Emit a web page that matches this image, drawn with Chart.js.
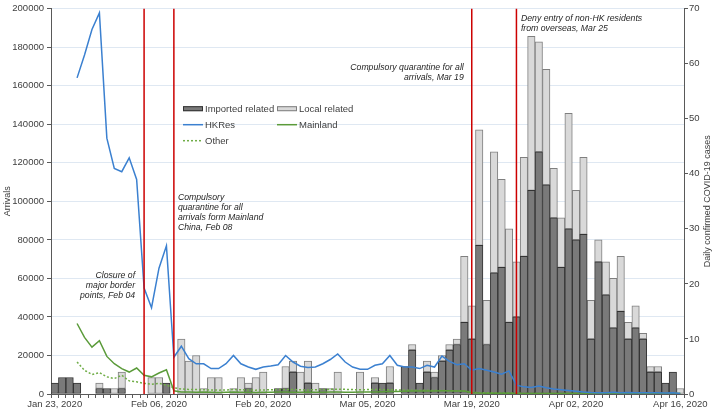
<!DOCTYPE html>
<html>
<head>
<meta charset="utf-8">
<script src="https://cdn.jsdelivr.net/npm/chart.js@4"></script>
<style>
  body { margin: 0; background: #fff; }
  canvas { display: block; }
</style>
</head>
<body>
<canvas id="myChart" width="716" height="411"></canvas>
<script>
// one category per day, Jan 23 - Apr 16 2020
var days = [];
for (var d = new Date(Date.UTC(2020, 0, 23)); d <= new Date(Date.UTC(2020, 3, 16)); d.setUTCDate(d.getUTCDate() + 1)) {
    days.push(d.toISOString().slice(0, 10));
}
var tickLabels = ['Jan 23, 2020', 'Feb 06, 2020', 'Feb 20, 2020', 'Mar 05, 2020', 'Mar 19, 2020', 'Apr 02, 2020', 'Apr 16, 2020'];
var tickEvery = 14;

// daily confirmed cases (right axis)
var imported = [2, 3, 3, 2, 0, 0, 1, 1, 0, 1,
    0, 0, 0, 0, 0, 2, 0, 0, 0, 0,
    0, 0, 0, 0, 0, 0, 1, 0, 0, 0,
    1, 1, 4, 0, 2, 0, 1, 0, 0, 0,
    0, 0, 0, 2, 2, 2, 0, 5, 8, 2,
    4, 3, 6, 8, 9, 13, 10, 27, 9, 22,
    23, 13, 14, 25, 37, 44, 38, 32, 23, 30,
    28, 29, 10, 24, 18, 12, 15, 10, 12, 10,
    4, 4, 2, 4, 0];
var local = [0, 0, 0, 0, 0, 0, 1, 0, 1, 3,
    0, 0, 0, 3, 3, 0, 0, 10, 6, 7,
    1, 3, 3, 0, 1, 3, 1, 3, 4, 0,
    0, 4, 2, 4, 4, 2, 0, 1, 4, 0,
    0, 4, 0, 1, 0, 3, 0, 0, 1, 0,
    2, 1, 1, 1, 1, 12, 6, 21, 8, 22,
    16, 17, 10, 18, 28, 20, 21, 9, 9, 21,
    9, 14, 7, 4, 6, 9, 10, 3, 4, 1,
    1, 1, 0, 0, 1];

// arrivals (left axis)
var hkRes = [null, null, null, 164100, 176000, 189200, 197800, 132800, 117100, 115400,
    122600, 111400, 55000, 44800, 65300, 76900, 19100, 24800, 18300, 15700,
    15700, 13200, 13200, 15700, 20000, 15700, 14000, 12800, 14000, 14500,
    15200, 20000, 16600, 14400, 13700, 14000, 15700, 17900, 20800, 16600,
    14000, 12800, 12800, 14900, 15700, 20000, 14900, 14000, 14000, 13200,
    14900, 14000, 19700, 16900, 15200, 15700, 12300, 13200, 12300, 11400,
    10300, 12000, 4600, 3700, 3400, 4100, 3200, 2600, 2200, 1800,
    1400, 1000, 800, 700, 700, 900, 700, 800, 600, 600,
    700, 600, 500, 600, 300];
var mainland = [null, null, null, 36600, 29400, 24300, 27700, 19500, 15700, 13200,
    11400, 13500, 9700, 8900, 10900, 12600, 1700, 1100, 1000, 900,
    1000, 900, 800, 900, 1000, 900, 900, 800, 900, 900,
    1000, 1100, 900, 900, 1000, 900, 900, 1000, 1100, 900,
    900, 1000, 1000, 1100, 1200, 1300, 1300, 1400, 1500, 1500,
    1600, 1500, 1700, 1700, 1600, 1500, 700, 500, 400, 400,
    400, 400, 300, 300, 300, 300, 200, 200, 200, 200,
    200, 200, 200, 200, 200, 200, 200, 200, 200, 200,
    200, 200, 200, 200, 200];
var other = [null, null, null, 16600, 12300, 10100, 11100, 8900, 8000, 9700,
    6800, 6300, 5500, 5100, 5500, 4600, 3200, 2600, 2400, 2300,
    2200, 2100, 2000, 2100, 2300, 2200, 2100, 2000, 2100, 2200,
    2300, 2400, 2300, 2200, 2100, 2200, 2300, 2400, 2500, 2400,
    2300, 2200, 2300, 2400, 2300, 2200, 2100, 2000, 2000, 1900,
    1900, 1800, 1800, 1700, 1600, 1500, 900, 700, 600, 600,
    500, 500, 400, 300, 300, 300, 300, 200, 200, 200,
    200, 200, 200, 200, 200, 200, 200, 200, 200, 200,
    200, 200, 200, 200, 200];

// policy events, drawn as red lines with notes
var events = [
    { day: '2020-02-04', text: ['Closure of', 'major border', 'points, Feb 04'], side: 'right', dx: -9, top: 267 },
    { day: '2020-02-08', text: ['Compulsory', 'quarantine for all', 'arrivals form Mainland', 'China, Feb 08'], side: 'left', dx: 4, top: 189 },
    { day: '2020-03-19', text: ['Compulsory quarantine for all', 'arrivals, Mar 19'], side: 'right', dx: -8, top: 59 },
    { day: '2020-03-25', text: ['Deny entry of non-HK residents', 'from overseas, Mar 25'], side: 'left', dx: 4.5, top: 10 }
];

var FONT = '"Liberation Sans", Arial, sans-serif';
var TEXT = '#404040';
var AXIS = '#595959';
var GRID = '#dfe8f2';
var BLUE = '#3b80d0';
var GREEN = '#5b9b3a';
var LIGHTGREEN = '#70ad47';
var RED = '#cc0000';

var overlay = {
    id: 'overlay',
    afterDatasetsDraw: function (chart) {
        var c = chart.ctx, area = chart.chartArea, x = chart.scales.x;
        c.save();
        // event lines and notes
        events.forEach(function (ev) {
            var px = x.getPixelForValue(days.indexOf(ev.day));
            c.strokeStyle = RED;
            c.lineWidth = 1.5;
            c.beginPath();
            c.moveTo(px, area.top);
            c.lineTo(px, area.bottom);
            c.stroke();
            c.font = 'italic 8.7px ' + FONT;
            c.fillStyle = '#262626';
            c.textAlign = ev.side;
            c.textBaseline = 'middle';
            ev.text.forEach(function (t, i) {
                c.fillText(t, px + ev.dx, area.top + ev.top + i * 10);
            });
        });

        // legend
        var lx = area.left + 132, col = 94, ly = area.top + 100, row = 16;
        var items = [
            { label: 'Imported related', type: 'box', fill: '#7a7a7a', stroke: '#333333', x: 0, y: 0 },
            { label: 'Local related', type: 'box', fill: '#d9d9d9', stroke: '#7f7f7f', x: 1, y: 0 },
            { label: 'HKRes', type: 'line', stroke: BLUE, x: 0, y: 1 },
            { label: 'Mainland', type: 'line', stroke: GREEN, x: 1, y: 1 },
            { label: 'Other', type: 'dash', stroke: LIGHTGREEN, x: 0, y: 2 }
        ];
        c.font = '9.5px ' + FONT;
        c.textAlign = 'left';
        c.textBaseline = 'middle';
        items.forEach(function (it) {
            var ix = lx + it.x * col, iy = ly + it.y * row;
            if (it.type === 'box') {
                c.fillStyle = it.fill;
                c.fillRect(ix, iy - 2.5, 20, 5);
                c.strokeStyle = it.stroke;
                c.lineWidth = 1;
                c.strokeRect(ix + 0.5, iy - 2, 19, 4);
            } else {
                c.strokeStyle = it.stroke;
                c.lineWidth = 1.5;
                c.setLineDash(it.type === 'dash' ? [2, 2] : []);
                c.beginPath();
                c.moveTo(ix, iy);
                c.lineTo(ix + 20, iy);
                c.stroke();
                c.setLineDash([]);
            }
            c.fillStyle = TEXT;
            c.fillText(it.label, ix + 22, iy + 0.5);
        });

        // axis titles
        c.font = '9px ' + FONT;
        c.fillStyle = TEXT;
        c.textAlign = 'center';
        var midY = (area.top + area.bottom) / 2;
        c.translate(8, midY);
        c.rotate(-Math.PI / 2);
        c.fillText('Arrivals', 0, 0);
        c.rotate(Math.PI / 2);
        c.translate(-8, -midY);
        c.translate(chart.width - 8, midY);
        c.rotate(-Math.PI / 2);
        c.fillText('Daily confirmed COVID-19 cases', 0, 0);
        c.restore();
    }
};

var ctx = document.getElementById('myChart').getContext('2d');
var chart = new Chart(ctx, {
    type: 'bar',
    data: {
        labels: days,
        datasets: [{
            type: 'line',
            label: 'HKRes',
            data: hkRes,
            yAxisID: 'y',
            borderColor: BLUE,
            borderWidth: 1.5,
            pointRadius: 0,
            order: 0
        }, {
            type: 'line',
            label: 'Mainland',
            data: mainland,
            yAxisID: 'y',
            borderColor: GREEN,
            borderWidth: 1.5,
            pointRadius: 0,
            order: 0
        }, {
            type: 'line',
            label: 'Other',
            data: other,
            yAxisID: 'y',
            borderColor: LIGHTGREEN,
            borderWidth: 1.5,
            borderDash: [2, 2],
            pointRadius: 0,
            order: 0
        }, {
            label: 'Imported related',
            data: imported.map(function (v) { return v || null; }),
            yAxisID: 'y1',
            backgroundColor: '#7a7a7a',
            borderColor: '#333333',
            borderWidth: 1,
            borderSkipped: false,
            barPercentage: 1,
            categoryPercentage: 1,
            order: 1
        }, {
            label: 'Local related',
            data: local.map(function (v) { return v || null; }),
            yAxisID: 'y1',
            backgroundColor: '#d9d9d9',
            borderColor: '#7f7f7f',
            borderWidth: 1,
            borderSkipped: false,
            barPercentage: 1,
            categoryPercentage: 1,
            order: 1
        }]
    },
    options: {
        responsive: false,
        animation: false,
        devicePixelRatio: 1,
        layout: { padding: { top: 4, left: 0, right: 0, bottom: 0 }, autoPadding: false },
        plugins: { legend: { display: false }, tooltip: { enabled: false } },
        scales: {
            x: {
                stacked: true,
                offset: true,
                afterFit: function (s) { s.height = 17; },
                grid: { drawOnChartArea: false, offset: true, tickLength: 4, tickColor: AXIS },
                border: { color: AXIS },
                ticks: {
                    autoSkip: false,
                    maxRotation: 0,
                    padding: 1,
                    color: TEXT,
                    font: { family: FONT, size: 9.5 },
                    callback: function (v, i) { return i % tickEvery === 0 ? tickLabels[i / tickEvery] : ''; }
                }
            },
            y: {
                position: 'left',
                min: 0,
                max: 200000,
                afterFit: function (s) { s.width = 51; },
                grid: { color: GRID, tickLength: 4, tickColor: AXIS },
                border: { color: AXIS },
                ticks: {
                    stepSize: 20000,
                    padding: 3,
                    color: TEXT,
                    font: { family: FONT, size: 9.5 },
                    callback: function (v) { return String(v); }
                }
            },
            y1: {
                position: 'right',
                stacked: true,
                min: 0,
                max: 70,
                afterFit: function (s) { s.width = 32; },
                grid: { drawOnChartArea: false, tickLength: 4, tickColor: AXIS },
                border: { color: AXIS },
                ticks: {
                    stepSize: 10,
                    padding: 1,
                    color: TEXT,
                    font: { family: FONT, size: 9.5 },
                    callback: function (v) { return String(v); }
                }
            }
        }
    },
    plugins: [overlay]
});
</script>
</body>
</html>
